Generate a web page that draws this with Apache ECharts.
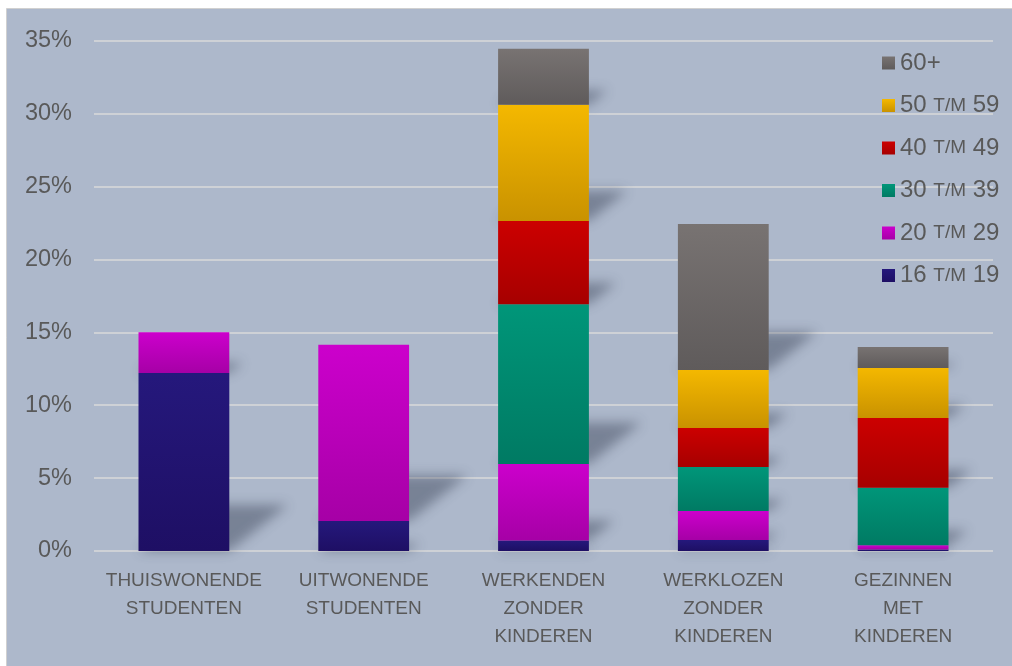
<!DOCTYPE html>
<html>
<head>
<meta charset="utf-8">
<script src="https://cdn.jsdelivr.net/npm/echarts@6/dist/echarts.min.js"></script>
<style>
html,body{margin:0;padding:0;background:#ffffff;}
#chart{width:1012px;height:666px;}
</style>
</head>
<body>
<div id="chart"></div>
<script>
var categories = ['THUISWONENDE\nSTUDENTEN', 'UITWONENDE\nSTUDENTEN', 'WERKENDEN\nZONDER\nKINDEREN', 'WERKLOZEN\nZONDER\nKINDEREN', 'GEZINNEN\nMET\nKINDEREN'];
var seriesNames = ['16 t/m 19', '20 t/m 29', '30 t/m 39', '40 t/m 49', '50 t/m 59', '60+'];
var age16_19 = [12.2, 2.05, 0.72, 0.75, 0.1];
var age20_29 = [2.8, 12.1, 5.25, 1.99, 0.3];
var age30_39 = [0, 0, 10.95, 3.02, 3.93];
var age40_49 = [0, 0, 5.71, 2.68, 4.8];
var age50_59 = [0, 0, 7.97, 3.97, 3.43];
var age60plus = [0, 0, 3.84, 10.02, 1.44];
var yTicks = [0, 5, 10, 15, 20, 25, 30, 35];

var seriesValues = [age16_19, age20_29, age30_39, age40_49, age50_59, age60plus];
var colorPairs = [
  ['#25187c', '#1e0f64'],
  ['#cc00cc', '#a600a6'],
  ['#009679', '#007a63'],
  ['#cc0000', '#a60000'],
  ['#f4b800', '#c99200'],
  ['#787372', '#5f5b5b']
];
function grad(p) {
  return new echarts.graphic.LinearGradient(0, 0, 0, 1, [
    {offset: 0, color: p[0]}, {offset: 1, color: p[1]}
  ]);
}

// shadow segments built from the stacked values
var shadowData = [];
for (var c = 0; c < categories.length; c++) {
  var base = 0;
  for (var s = 0; s < seriesValues.length; s++) {
    var v = seriesValues[s][c];
    if (v > 0) shadowData.push([c, base, base + v]);
    base += v;
  }
}

var BAR_RATIO = 0.505;
var FONT = 'Liberation Sans, Arial, sans-serif';
var series = [{
  type: 'custom',
  name: 'shadow',
  silent: true,
  z: 1,
  data: shadowData,
  renderItem: function (params, api) {
    var c = api.value(0);
    var pb = api.coord([c, api.value(1)]);
    var pt = api.coord([c, api.value(2)]);
    var w = api.size([1, 0])[0] * BAR_RATIO;
    var xl = pb[0] - w / 2, xr = pb[0] + w / 2;
    var yb = pb[1], h = pb[1] - pt[1];
    var k = 0.33, sc = 0.26, off = 3000;
    return {
      type: 'polygon',
      shape: {points: [
        [xl - off, yb], [xr - off, yb],
        [xr + k * h - off, yb - sc * h], [xl + k * h - off, yb - sc * h]
      ]},
      style: {
        fill: '#000',
        shadowColor: 'rgba(55,65,85,0.45)',
        shadowBlur: 12,
        shadowOffsetX: off,
        shadowOffsetY: 0
      }
    };
  }
}];
for (var i = 0; i < seriesNames.length; i++) {
  series.push({
    type: 'bar',
    name: seriesNames[i],
    stack: 'total',
    barWidth: (BAR_RATIO * 100) + '%',
    z: 2,
    itemStyle: {color: grad(colorPairs[i])},
    emphasis: {disabled: true},
    data: seriesValues[i]
  });
}

var chart = echarts.init(document.getElementById('chart'), null, {renderer: 'canvas'});
chart.setOption({
  animation: false,
  backgroundColor: '#ffffff',
  graphic: [{
    type: 'rect',
    z: -10,
    silent: true,
    shape: {x: 6.5, y: 8.5, width: 1010, height: 660},
    style: {fill: '#adb8cb', stroke: '#d0d0d0', lineWidth: 1}
  }],
  grid: {left: 94, right: 19, top: 40.7, bottom: 115, containLabel: false},
  legend: {
    orient: 'vertical',
    left: 882,
    top: 51,
    padding: 0,
    icon: 'rect',
    itemWidth: 13,
    itemHeight: 13,
    itemGap: 18.5,
    data: seriesNames.slice().reverse(),
    formatter: function (name) {
      var parts = name.split(' t/m ');
      if (parts.length === 2) return '{n|' + parts[0] + ' }{s|T/M}{n| ' + parts[1] + '}';
      return '{n|' + name + '}';
    },
    textStyle: {
      color: '#595959',
      fontFamily: FONT,
      fontSize: 24,
      lineHeight: 24,
      padding: [0, 0, 0, 0],
      rich: {
        n: {fontSize: 24, color: '#595959', fontFamily: FONT, lineHeight: 24},
        s: {fontSize: 19, color: '#595959', fontFamily: FONT, lineHeight: 24}
      }
    }
  },
  xAxis: {
    type: 'category',
    data: categories,
    axisLine: {show: false},
    axisTick: {show: false},
    axisLabel: {
      color: '#595959',
      fontFamily: FONT,
      fontSize: 19,
      lineHeight: 28,
      margin: 16,
      interval: 0
    }
  },
  yAxis: {
    type: 'value',
    min: yTicks[0],
    max: yTicks[yTicks.length - 1],
    interval: yTicks[1] - yTicks[0],
    axisLine: {show: false},
    axisTick: {show: false},
    splitLine: {lineStyle: {color: '#dadada', width: 1.5}},
    axisLabel: {
      color: '#595959',
      fontFamily: FONT,
      fontSize: 23.5,
      margin: 22,
      formatter: '{value}%'
    }
  },
  series: series
});
</script>
</body>
</html>
